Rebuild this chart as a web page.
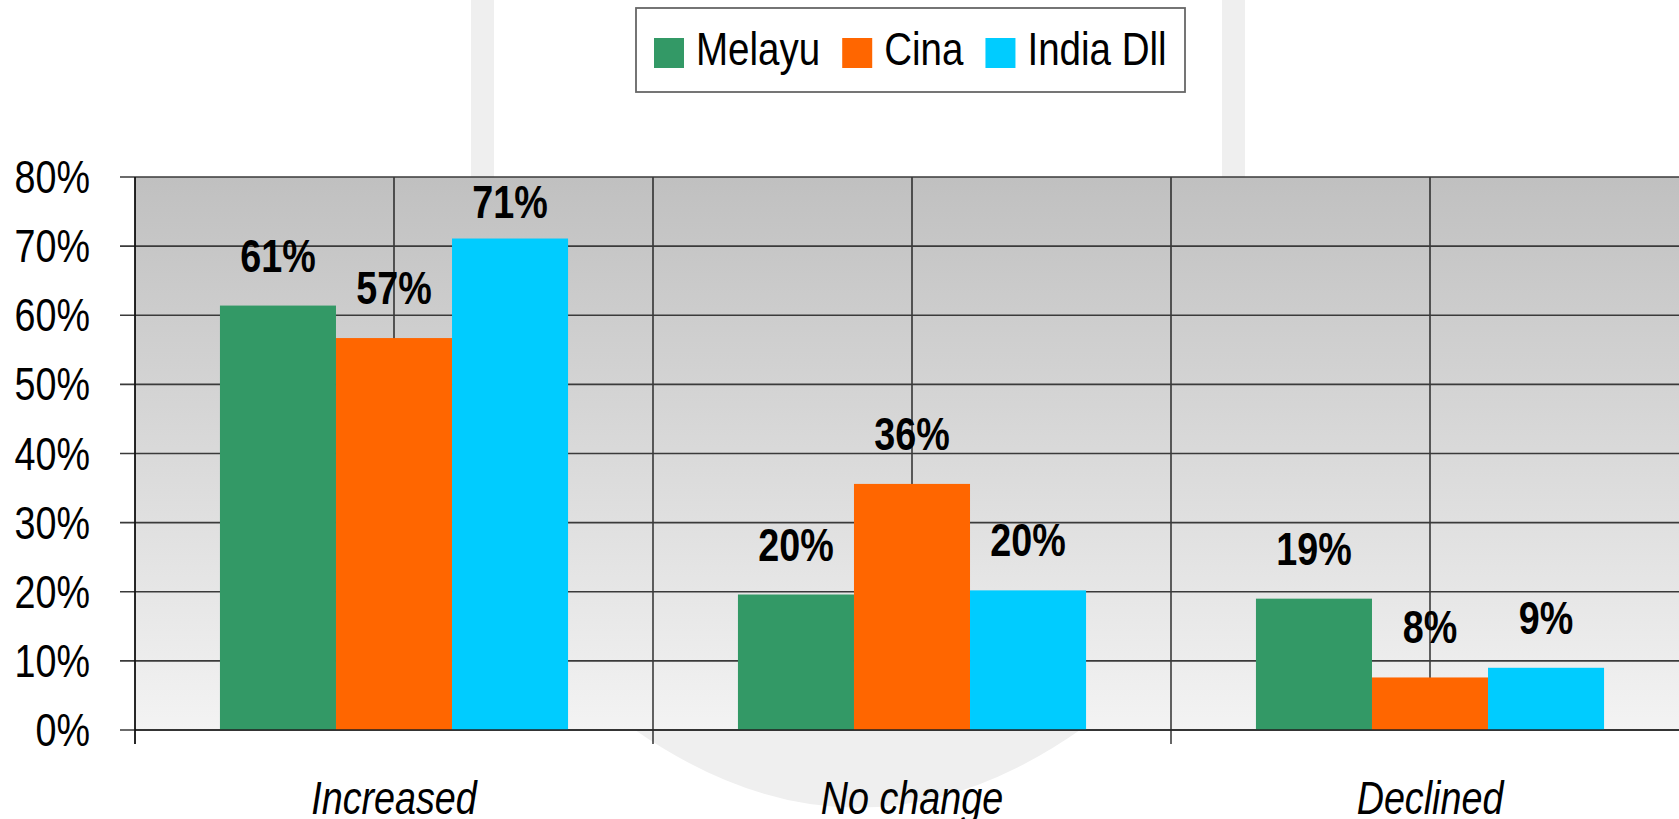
<!DOCTYPE html>
<html>
<head>
<meta charset="utf-8">
<script src="https://cdn.jsdelivr.net/npm/d3@7"></script>
<style>
  html, body { margin: 0; padding: 0; background: #fff; overflow: hidden; }
  svg { display: block; }
  text { font-family: "Liberation Sans", Arial, sans-serif; }
</style>
</head>
<body>
<div id="chartContainer"></div>
<script>
const categories = ["Increased", "No change", "Declined"];
const seriesNames = ["Melayu", "Cina", "India Dll"];
const melayu = [61.4, 19.6, 19.0];
const cina = [56.7, 35.6, 7.6];
const india = [71.1, 20.2, 9.0];
const yTicks = [0, 10, 20, 30, 40, 50, 60, 70, 80];
const colors = ["#339966", "#ff6600", "#00ccff"];

const seriesValues = [melayu, cina, india];

const width = 1679;
const height = 819;
const margin = { top: 177, left: 135, bottom: 89 };
const catWidth = 518;
const narrow = 0.82; // the original font is a condensed Arial

// place a text with a horizontal squeeze
const at = (x, yy) => `translate(${x},${yy}) scale(${narrow},1)`;

const svg = d3
  .select("#chartContainer")
  .append("svg")
  .attr("width", width)
  .attr("height", height);

const defs = svg.append("defs");
const grad = defs
  .append("linearGradient")
  .attr("id", "plotBg")
  .attr("x1", 0)
  .attr("y1", 0)
  .attr("x2", 0)
  .attr("y2", 1);
grad.append("stop").attr("offset", "0%").attr("stop-color", "#c0c0c0");
grad.append("stop").attr("offset", "100%").attr("stop-color", "#f3f3f3");

const x0 = d3
  .scaleBand()
  .domain(categories)
  .range([margin.left, margin.left + catWidth * categories.length]);
const bw = x0.bandwidth();
const x1 = d3
  .scaleBand()
  .domain(seriesNames)
  .range([bw * 0.164, bw * 0.836]);
const y = d3
  .scaleLinear()
  .domain([0, 80])
  .range([height - margin.bottom, margin.top]);

const y0 = y(0);
const yTop = y(80);
const plotRight = x0.range()[1];

// faint watermark behind the chart
const wm = svg.append("g").attr("fill", "#efefef");
wm.append("rect").attr("x", 471).attr("y", 0).attr("width", 23).attr("height", yTop);
wm.append("rect").attr("x", 1222).attr("y", 0).attr("width", 23).attr("height", yTop);
wm.append("path").attr("d", `M635,${y0} Q858,885 1080,${y0} Z`);

// plot background
svg
  .append("rect")
  .attr("x", margin.left)
  .attr("y", yTop)
  .attr("width", plotRight - margin.left)
  .attr("height", y0 - yTop)
  .attr("fill", "url(#plotBg)");

// vertical gridlines at category edges and centres
const vLines = [];
categories.forEach((c) => {
  vLines.push({ x: x0(c), edge: true });
  vLines.push({ x: x0(c) + bw / 2, edge: false });
});
svg
  .selectAll(".vgrid")
  .data(vLines)
  .enter()
  .append("line")
  .attr("class", "vgrid")
  .attr("x1", (d) => d.x)
  .attr("x2", (d) => d.x)
  .attr("y1", yTop)
  .attr("y2", (d) => (d.edge ? y0 + 14 : y0))
  .attr("stroke", "#000")
  .attr("stroke-width", 1.2);

// horizontal gridlines + ticks
svg
  .selectAll(".hgrid")
  .data(yTicks)
  .enter()
  .append("line")
  .attr("class", "hgrid")
  .attr("x1", margin.left - 15)
  .attr("x2", plotRight)
  .attr("y1", (d) => y(d))
  .attr("y2", (d) => y(d))
  .attr("stroke", "#3a3a3a")
  .attr("stroke-width", 1.6);

svg
  .selectAll(".ylab")
  .data(yTicks)
  .enter()
  .append("text")
  .attr("class", "ylab")
  .attr("transform", (d) => at(90, y(d) + 16))
  .attr("text-anchor", "end")
  .style("font-size", "46px")
  .text((d) => d + "%");

// bars
const groups = svg
  .selectAll(".grp")
  .data(categories)
  .enter()
  .append("g")
  .attr("class", "grp")
  .attr("transform", (d) => `translate(${x0(d)},0)`);

groups
  .selectAll("rect")
  .data((d, i) => seriesNames.map((s, j) => ({ s: s, v: seriesValues[j][i], j: j })))
  .enter()
  .append("rect")
  .attr("x", (d) => x1(d.s))
  .attr("width", x1.bandwidth())
  .attr("y", (d) => y(d.v))
  .attr("height", (d) => y0 - y(d.v))
  .attr("fill", (d) => colors[d.j]);

groups
  .selectAll(".val")
  .data((d, i) => seriesNames.map((s, j) => ({ s: s, v: seriesValues[j][i] })))
  .enter()
  .append("text")
  .attr("class", "val")
  .attr("transform", (d) =>
    at(x1(d.s) + x1.bandwidth() / 2, Math.max(y(d.v) - 34, yTop + 41))
  )
  .attr("text-anchor", "middle")
  .style("font-size", "46px")
  .style("font-weight", "bold")
  .text((d) => Math.round(d.v) + "%");

// axis line at zero
svg
  .append("line")
  .attr("x1", margin.left)
  .attr("x2", plotRight)
  .attr("y1", y0)
  .attr("y2", y0)
  .attr("stroke", "#222")
  .attr("stroke-width", 1.6);
svg
  .append("line")
  .attr("x1", margin.left)
  .attr("x2", margin.left)
  .attr("y1", yTop)
  .attr("y2", y0 + 14)
  .attr("stroke", "#000")
  .attr("stroke-width", 1.2);

// category labels
svg
  .selectAll(".xlab")
  .data(categories)
  .enter()
  .append("text")
  .attr("class", "xlab")
  .attr("transform", (d) => at(x0(d) + bw / 2, 814))
  .attr("text-anchor", "middle")
  .style("font-size", "46px")
  .style("font-style", "italic")
  .text((d) => d);

// legend
const legend = svg.append("g");
legend
  .append("rect")
  .attr("x", 636)
  .attr("y", 8)
  .attr("width", 549)
  .attr("height", 84)
  .attr("fill", "#fff")
  .attr("stroke", "#666")
  .attr("stroke-width", 1.8);

let lx = 654;
seriesNames.forEach((s, i) => {
  legend
    .append("rect")
    .attr("x", lx)
    .attr("y", 38)
    .attr("width", 30)
    .attr("height", 30)
    .attr("fill", colors[i]);
  const t = legend
    .append("text")
    .attr("transform", at(lx + 42, 65))
    .style("font-size", "47px")
    .text(s);
  lx += 42 + t.node().getComputedTextLength() * narrow + 22;
});
</script>
</body>
</html>
